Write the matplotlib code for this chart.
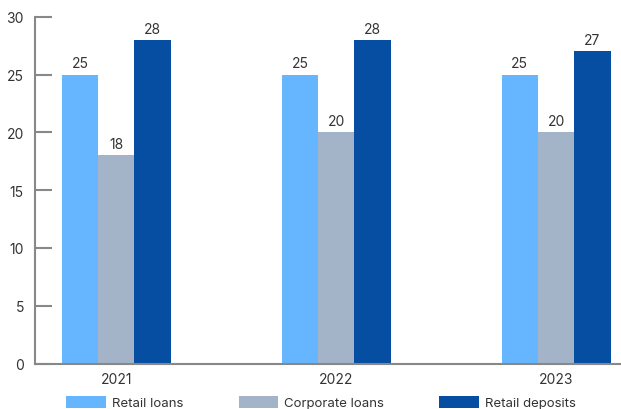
import numpy as np
import matplotlib
matplotlib.use("Agg")
import matplotlib.pyplot as plt

# dados
anos = ['2021', '2022', '2023']
series = ['Retail loans', 'Corporate loans', 'Retail deposits']
retail_loans = [25, 25, 25]
corporate_loans = [18, 20, 20]
retail_deposits = [28, 28, 27]
cores = ['#66B5FF', '#A3B4C8', '#064EA2']

plt.rcParams['font.family'] = ['Inter', 'DejaVu Sans']

fig = plt.figure(figsize=(6.21, 4.10), dpi=100)
ax = fig.add_axes([35/621, 1 - 364.5/410, 586/621, (364.5 - 17.7)/410])

x = np.arange(len(anos))
w = 0.165
valores = [retail_loans, corporate_loans, retail_deposits]
for i, (nome, vals, c) in enumerate(zip(series, valores, cores)):
    barras = ax.bar(x + (i - 1) * w, vals, width=w, color=c, label=nome)
    ax.bar_label(barras, padding=3, fontsize=10, color='#333333')

ax.set_xlim(-0.37, 2.295)
ax.set_ylim(0, 30)
ax.set_yticks(range(0, 31, 5))
ax.set_xticks(x)
ax.set_xticklabels(anos)
ax.tick_params(axis='y', direction='in', length=12, width=1.5, color='#888888',
               labelsize=10, labelcolor='#333333', pad=8)
ax.tick_params(axis='x', length=0, labelsize=10, labelcolor='#333333', pad=6)
for s in ['top', 'right']:
    ax.spines[s].set_visible(False)
for s in ['left', 'bottom']:
    ax.spines[s].set_color('#888888')
    ax.spines[s].set_linewidth(1.5)
ax.spines['bottom'].set_zorder(5)

fig.legend(loc='lower center', bbox_to_anchor=(0.517, -0.03), ncol=3, frameon=False,
           fontsize=9.5, handlelength=3.0, handleheight=1.0, columnspacing=4.2,
           labelcolor='#333333', handletextpad=0.45)

fig.savefig('out.png', dpi=100, facecolor='white')
